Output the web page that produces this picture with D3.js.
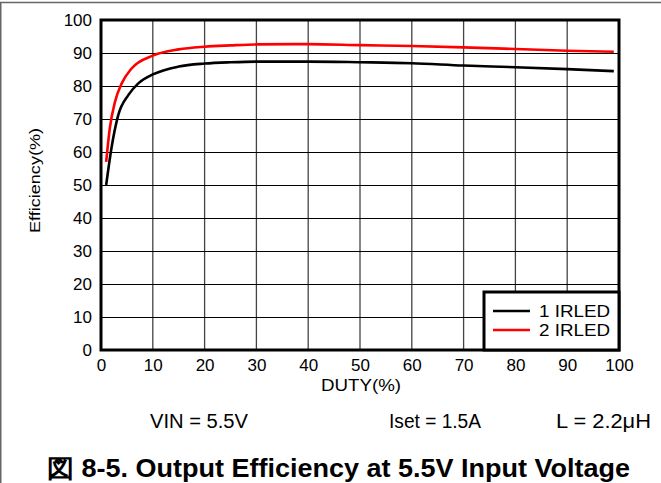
<!DOCTYPE html>
<html><head><meta charset="utf-8">
<script src="https://cdn.jsdelivr.net/npm/d3@7"></script>
<style>body{margin:0;background:#fff}svg{display:block}text{font-family:"Liberation Sans",Arial,sans-serif}</style>
</head><body><svg id="c" width="661" height="483"></svg>
<script>
const xTicks = [0,10,20,30,40,50,60,70,80,90,100];
const yTicks = [0,10,20,30,40,50,60,70,80,90,100];
const duty1 = [1,2,3.3,5.3,7.2,10,15,20,25,30,40,50,60,70,80,90,99];
const eff1  = [50,61,71,77.3,80.8,83.5,85.9,86.8,87.2,87.4,87.4,87.2,86.9,86.2,85.7,85.1,84.5];
const duty2 = [1,1.7,2.7,4,5.9,10,15,20,25,30,40,50,60,70,80,90,99];
const eff2  = [57,67.2,75.2,80.8,85.3,89.2,91.1,91.9,92.3,92.6,92.7,92.4,92.1,91.7,91.2,90.7,90.4];
const seriesNames = ["1 IRLED","2 IRLED"];
const seriesColors = ["#000000","#ff0000"];

const svg = d3.select("#c");
const x = d3.scaleLinear().domain([0,100]).range([101,619]);
const y = d3.scaleLinear().domain([0,100]).range([350,20]);

// outer frame
svg.append("line").attr("x1",0).attr("x2",661).attr("y1",2.5).attr("y2",2.5).attr("stroke","#666").attr("stroke-width",1.5);
svg.append("line").attr("x1",0.75).attr("x2",0.75).attr("y1",2).attr("y2",483).attr("stroke","#666").attr("stroke-width",1.5);

// grid
const g = svg.append("g");
g.selectAll(".vg").data(xTicks.slice(1,-1)).join("line")
  .attr("x1",d=>x(d)).attr("x2",d=>x(d)).attr("y1",y(100)).attr("y2",y(0))
  .attr("stroke","#444").attr("stroke-width",1.3);
g.selectAll(".hg").data(yTicks.slice(1,-1)).join("line")
  .attr("x1",x(0)).attr("x2",x(100)).attr("y1",d=>Math.round(y(d))+0.5).attr("y2",d=>Math.round(y(d))+0.5)
  .attr("stroke","#000").attr("stroke-width",1);

// axes labels via d3 axes
const xAxis = svg.append("g").attr("transform",`translate(0,${y(0)})`)
  .call(d3.axisBottom(x).tickValues(xTicks).tickSize(0).tickPadding(9));
const yAxis = svg.append("g").attr("transform",`translate(${x(0)},0)`)
  .call(d3.axisLeft(y).tickValues(yTicks).tickSize(0).tickPadding(9));
[xAxis,yAxis].forEach(a=>{a.select(".domain").remove();a.selectAll("text").attr("font-size",17).attr("fill","#000").attr("font-family","Liberation Sans, Arial, sans-serif");});

// lines
const line = d3.line().x(d=>x(d[0])).y(d=>y(d[1])).curve(d3.curveMonotoneX);
const s1 = duty1.map((d,i)=>[d,eff1[i]]);
const s2 = duty2.map((d,i)=>[d,eff2[i]]);
[s1,s2].forEach((s,i)=>{
  svg.append("path").attr("d",line(s)).attr("fill","none").attr("stroke",seriesColors[i]).attr("stroke-width",2.6);
});

// plot border
svg.append("rect").attr("x",x(0)).attr("y",y(100)).attr("width",x(100)-x(0)).attr("height",y(0)-y(100))
  .attr("fill","none").attr("stroke","#000").attr("stroke-width",3);

// legend
const lg = svg.append("g");
lg.append("rect").attr("x",484).attr("y",292).attr("width",x(100)-484).attr("height",y(0)-292)
  .attr("fill","#fff").attr("stroke","#000").attr("stroke-width",3);
seriesNames.forEach((n,i)=>{
  const ly = 311 + i*19;
  lg.append("line").attr("x1",493).attr("x2",530).attr("y1",ly).attr("y2",ly).attr("stroke",seriesColors[i]).attr("stroke-width",2.5);
  lg.append("text").attr("x",539).attr("y",ly+6).attr("font-size",17)
    .attr("textLength",71).attr("lengthAdjust","spacingAndGlyphs").text(n);
});

// axis titles
svg.append("text").attr("x",321).attr("y",391).attr("font-size",16)
  .attr("textLength",80).attr("lengthAdjust","spacingAndGlyphs").text("DUTY(%)");
svg.append("text").attr("transform","translate(40,233) rotate(-90)").attr("font-size",15)
  .attr("textLength",105).attr("lengthAdjust","spacingAndGlyphs").text("Efficiency(%)");

// conditions
const cond = [["VIN = 5.5V",150,98],["Iset = 1.5A",389,92],["L = 2.2μH",556,95]];
cond.forEach(c=>svg.append("text").attr("x",c[1]).attr("y",428).attr("font-size",20)
  .attr("textLength",c[2]).attr("lengthAdjust","spacingAndGlyphs").text(c[0]));

// title
svg.append("text").attr("x",47).attr("y",477).attr("font-size",25).attr("font-weight","bold")
  .attr("textLength",583).attr("lengthAdjust","spacingAndGlyphs").text("図 8-5. Output Efficiency at 5.5V Input Voltage");
</script></body></html>
